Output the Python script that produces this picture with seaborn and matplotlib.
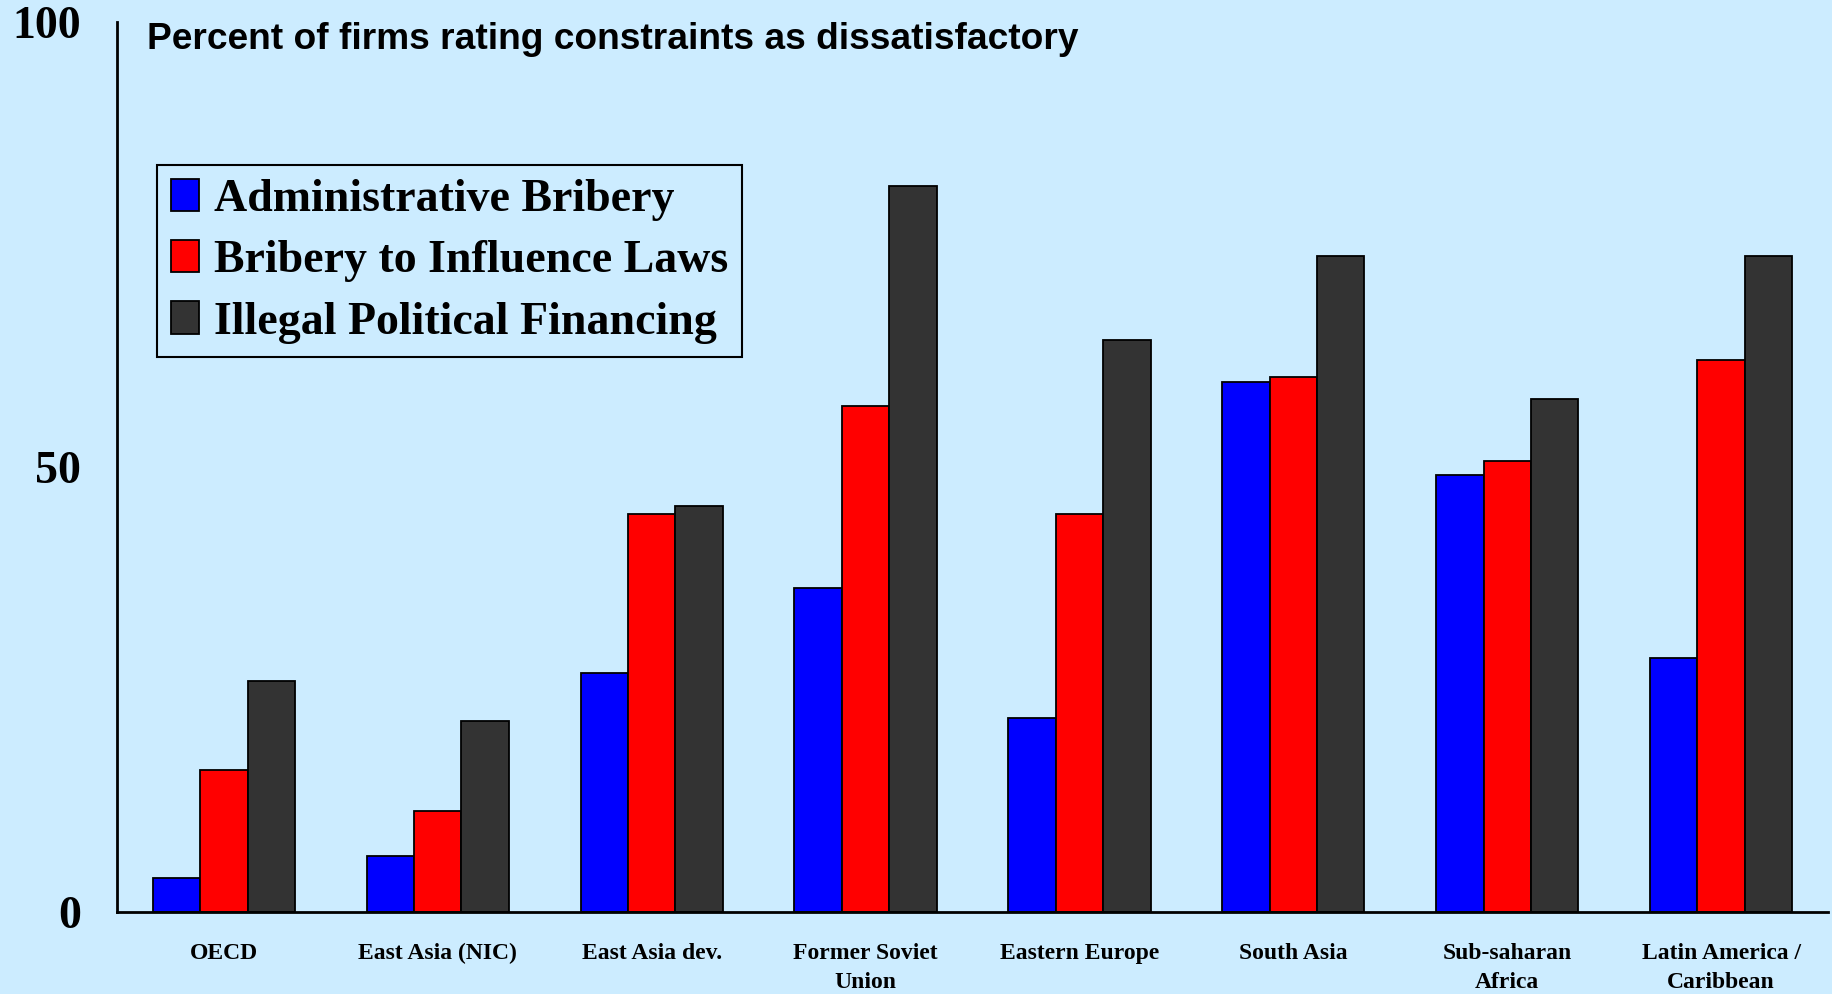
import numpy as np
import pandas as pd
import matplotlib
matplotlib.use("Agg")
import matplotlib.pyplot as plt
import seaborn as sns
from matplotlib.ticker import FixedLocator, NullFormatter

regions = ['OECD', 'East Asia (NIC)', 'East Asia dev.', 'Former Soviet\nUnion',
           'Eastern Europe', 'South Asia', 'Sub-saharan\nAfrica', 'Latin America /\nCaribbean']
series = ['Administrative Bribery', 'Bribery to Influence Laws', 'Illegal Political Financing']
admin_bribery = [3.8, 6.3, 26.8, 36.4, 21.8, 59.5, 49.1, 28.5]
influence_laws = [15.9, 11.3, 44.7, 56.9, 44.7, 60.1, 50.7, 62.0]
political_fin = [26.0, 21.5, 45.6, 81.6, 64.3, 73.7, 57.6, 73.7]
yticks = [0, 50, 100]

bg = '#CCECFF'
colors = ['#0000FF', '#FF0000', '#333333']

df = pd.DataFrame({'region': regions * 3,
                   'series': np.repeat(series, len(regions)),
                   'value': admin_bribery + influence_laws + political_fin})

sns.set_style('white')
plt.rcParams['font.family'] = ['Liberation Serif', 'DejaVu Serif']
plt.rcParams['text.color'] = 'black'
plt.rcParams['xtick.color'] = 'black'
plt.rcParams['ytick.color'] = 'black'

fig = plt.figure(figsize=(18.33, 9.94), dpi=100, facecolor=bg)
ax = fig.add_axes([0.0638, 0.0825, 0.9335, 0.8954])
ax.set_facecolor(bg)

sns.barplot(data=df, x='region', y='value', hue='series', palette=colors,
            width=0.665, gap=0, edgecolor='black', linewidth=1.3,
            saturation=1, ax=ax, legend=True)

ax.set_xlim(-0.5, len(regions) - 0.5)
ax.set_ylim(0, 100)
ax.set_xlabel('')
ax.set_ylabel('')

# y axis
ax.set_yticks(yticks)
ax.set_yticklabels([str(t) for t in yticks], fontsize=33, fontweight='bold')
ax.tick_params(axis='y', direction='out', length=12, width=1.5, pad=14, color='black',
               labelcolor='black')

# x axis: boundary ticks outward, labels at centres with small inward ticks
ax.xaxis.set_major_locator(FixedLocator(np.arange(-0.5, len(regions), 1.0)))
ax.xaxis.set_major_formatter(NullFormatter())
ax.xaxis.set_minor_locator(FixedLocator(np.arange(len(regions))))
ax.set_xticklabels(regions, minor=True, fontsize=17, fontweight='bold', linespacing=1.55)
ax.tick_params(axis='x', which='major', direction='out', length=10, width=1.5, color='black')
ax.tick_params(axis='x', which='minor', direction='in', length=8, width=1.5, pad=22,
               color='black', labelcolor='black')
for lab in ax.get_xticklabels(minor=True):
    lab.set_verticalalignment('top')

sns.despine(ax=ax)
for side in ['left', 'bottom']:
    ax.spines[side].set_color('black')
    ax.spines[side].set_linewidth(2)

leg = ax.legend(loc='upper left', bbox_to_anchor=(0.0857, 0.834), bbox_transform=fig.transFigure,
                borderaxespad=0, frameon=True, fancybox=False, edgecolor='black',
                facecolor=bg, framealpha=1, prop={'family': 'Liberation Serif', 'weight': 'bold', 'size': 33},
                handlelength=0.62, handleheight=0.7, handletextpad=0.32, labelspacing=0.42,
                borderpad=0.3)
leg.get_frame().set_linewidth(1.5)
for t in leg.get_texts():
    t.set_color('black')

fig.text(0.080, 0.960, 'Percent of firms rating constraints as dissatisfactory',
         family='Liberation Sans', fontweight='bold', fontsize=26.7, va='center', ha='left',
         color='black')

fig.savefig('out.png', dpi=100, facecolor=bg)
